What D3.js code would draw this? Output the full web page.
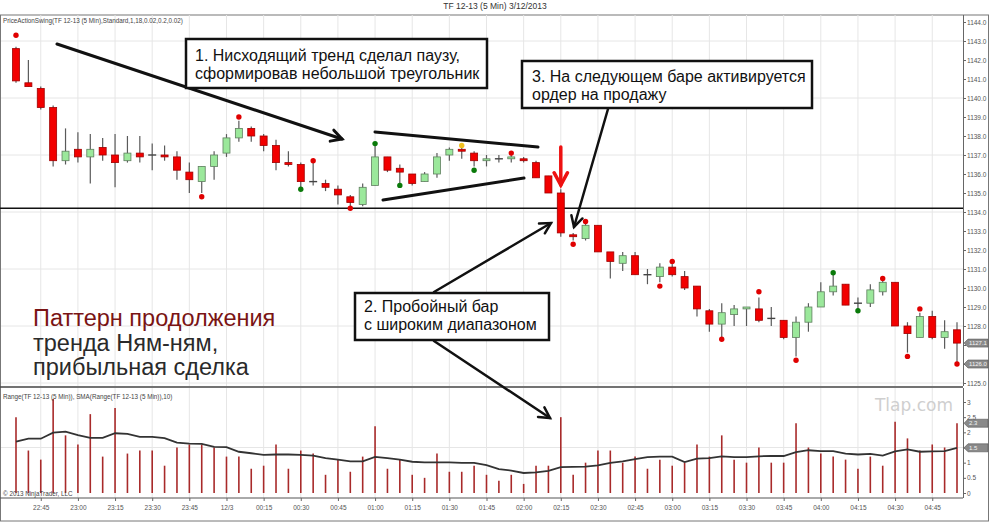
<!DOCTYPE html>
<html>
<head>
<meta charset="utf-8">
<script src="https://cdn.jsdelivr.net/npm/d3@7"></script>
<style>
  body { margin: 0; background: #fff; }
  svg { display: block; font-family: "Liberation Sans", Arial, sans-serif; }
</style>
</head>
<body>
<div id="chart"></div>
<script>
// 5-min bars, 22:35 .. 04:55
const opens  = [1142.6,1140.8,1140.5,1139.5,1136.7,1137.3,1136.9,1137.4,1137.0,1136.7,1137.1,1137.0,1137.0,1136.9,1136.1,1135.6,1136.4,1137.1,1137.9,1138.4,
                1138.0,1137.5,1136.6,1136.5,1135.6,1135.5,1135.2,1134.8,1134.4,1135.4,1136.9,1136.3,1136.0,1135.6,1136.0,1137.0,1137.3,1137.1,1136.7,1136.8,
                1136.8,1136.8,1136.6,1135.9,1135.0,1132.8,1132.6,1133.3,1131.9,1131.3,1131.7,1130.7,1130.6,1131.1,1130.6,1130.1,1128.8,1128.1,1128.6,1128.9,
                1128.9,1128.4,1128.3,1127.4,1128.2,1129.0,1129.8,1130.2,1129.2,1129.2,1129.8,1130.3,1128.0,1127.4,1128.5,1127.4,1127.8];
const highs  = [1142.7,1142.0,1140.6,1139.6,1138.4,1138.2,1138.1,1137.9,1138.1,1138.0,1138.0,1137.6,1137.5,1137.2,1136.6,1136.4,1137.2,1138.1,1138.8,1138.5,
                1138.1,1137.8,1137.2,1136.6,1136.6,1135.7,1135.4,1134.9,1135.5,1137.5,1136.9,1136.5,1136.0,1136.1,1137.1,1137.4,1137.4,1137.2,1137.0,1137.0,
                1137.0,1136.9,1136.7,1135.9,1135.2,1132.9,1133.4,1133.3,1131.9,1131.9,1131.9,1131.0,1131.3,1131.3,1130.9,1130.1,1128.9,1129.2,1129.1,1129.0,
                1129.5,1129.0,1128.3,1128.5,1129.2,1130.3,1130.7,1130.2,1129.5,1130.2,1130.4,1130.3,1128.2,1128.7,1128.8,1128.3,1128.2];
const lows   = [1140.8,1140.6,1139.4,1136.4,1136.5,1136.6,1135.5,1136.7,1135.3,1136.6,1136.6,1136.2,1136.7,1135.7,1135.0,1135.0,1135.7,1136.9,1137.7,1137.7,
                1137.2,1136.2,1136.4,1135.3,1135.4,1135.1,1134.4,1134.3,1134.3,1135.4,1136.1,1135.5,1135.4,1135.6,1135.8,1136.7,1136.8,1136.4,1136.4,1136.6,
                1136.6,1136.6,1135.8,1135.0,1132.7,1132.5,1132.5,1131.9,1130.5,1130.9,1130.7,1130.2,1130.3,1130.6,1129.9,1128.5,1127.7,1127.4,1128.0,1128.0,
                1128.2,1128.0,1127.3,1126.4,1127.7,1129.0,1129.6,1129.1,1128.9,1129.0,1129.6,1128.0,1126.6,1127.4,1127.3,1126.8,1126.1];
const closes = [1140.9,1140.6,1139.5,1136.7,1137.2,1136.9,1137.3,1137.0,1136.6,1137.1,1136.9,1137.0,1136.9,1136.2,1135.7,1136.4,1137.0,1137.9,1138.4,1138.0,
                1137.5,1136.6,1136.5,1135.6,1135.6,1135.3,1134.9,1134.5,1135.3,1136.9,1136.2,1136.1,1135.5,1136.0,1136.9,1137.3,1137.2,1136.7,1136.8,1136.8,
                1136.9,1136.7,1135.8,1135.0,1132.9,1132.7,1133.3,1131.9,1131.4,1131.7,1130.7,1130.7,1131.1,1130.7,1130.0,1128.9,1128.1,1128.7,1128.9,1129.0,
                1128.3,1128.4,1127.4,1128.2,1129.0,1129.8,1130.1,1129.1,1129.2,1129.9,1130.3,1128.0,1127.6,1128.5,1127.4,1127.7,1127.1];

// lower panel: Range and SMA(Range,10)
const ranges   = [2.5,1.4,1.1,3.1,1.9,1.6,2.6,1.2,2.8,1.3,1.4,1.4,0.9,1.5,1.6,1.6,1.5,1.2,1.2,0.8,
                  0.9,1.6,0.8,1.4,1.3,0.6,1.1,0.7,1.2,2.2,0.8,1.1,0.6,0.5,1.3,0.7,0.7,0.9,0.6,0.4,
                  0.6,0.3,0.9,0.9,2.5,0.6,1.0,1.4,1.4,1.0,1.2,0.8,1.1,0.9,1.0,1.6,1.2,1.9,1.1,1.0,
                  1.5,1.0,1.0,2.3,1.5,1.3,1.2,1.1,0.8,1.2,0.9,2.35,1.8,1.4,1.6,1.5,2.3];
const smaRange = [1.69,1.79,1.79,1.99,2.02,1.91,1.82,1.82,1.97,1.95,1.85,1.85,1.81,1.66,1.63,1.62,1.52,1.51,1.36,1.31,
                  1.26,1.27,1.27,1.26,1.23,1.15,1.10,1.04,1.04,1.19,1.15,1.10,1.03,1.01,1.01,1.01,0.99,0.99,0.92,0.79,
                  0.74,0.66,0.68,0.73,0.85,0.86,0.87,0.91,0.99,1.04,1.12,1.18,1.20,1.20,1.02,1.13,1.15,1.21,1.18,1.18,
                  1.21,1.22,1.22,1.35,1.41,1.38,1.38,1.30,1.27,1.29,1.23,1.37,1.44,1.36,1.37,1.38,1.49];

// PriceActionSwing dots
const dotBars   = [0,15,18,23,24,27,29,31,36,37,40,45,46,52,53,57,60,63,66,68,70,72,73,76];
const dotPrices = [1143.3,1134.8,1139.0,1135.2,1136.7,1134.2,1137.6,1135.4,1137.5,1136.2,1137.1,1132.3,1133.5,1130.1,1131.4,1127.3,1129.8,1126.2,1130.8,1128.8,1130.5,1126.4,1128.9,1126.0];
const dotColors = ["r","r","r","g","r","r","g","g","y","g","r","r","r","r","r","r","r","r","g","g","r","r","r","r"];

const timeTickBars = [2,5,8,11,14,17,20,23,26,29,32,35,38,41,44,47,50,53,56,59,62,65,68,71,74];
const timeLabels = ["22:45","23:00","23:15","23:30","23:45","12/3","00:15","00:30","00:45","01:00","01:15","01:30","01:45",
                    "02:00","02:15","02:30","02:45","03:00","03:15","03:30","03:45","04:00","04:15","04:30","04:45"];
const priceTicks = [1144,1143,1142,1141,1140,1139,1138,1137,1136,1135,1134,1133,1132,1131,1130,1129,1128,1127,1126,1125];
const priceGrid  = [1143,1140,1137,1134,1131,1128,1125];
const rangeTicks = [0,0.5,1,1.5,2,2.5,3];
const supportLevel = 1134.2;

const W = 990, H = 523;
const plotL = 1, plotR = 963;
const upTop = 15, upBot = 386, loTop = 388, loBot = 498;

const svg = d3.select("#chart").append("svg").attr("width", W).attr("height", H);

const x = d3.scalePoint().domain(d3.range(opens.length)).range([16, 957]);
const yP = d3.scaleLinear().domain([1125, 1144]).range([383, 22]);
const yR = d3.scaleLinear().domain([0, 3]).range([493, 402]);

const last = a => a[a.length - 1];
const upMarks = [last(closes), last(dotPrices)];
const loMarks = [last(ranges), last(smaRange)];

// frame
svg.append("rect").attr("x", 0.5).attr("y", upTop).attr("width", 988).attr("height", 521 - upTop)
  .attr("fill", "none").attr("stroke", "#777");

// grid
const grid = svg.append("g").attr("stroke", "#e6e6e6").attr("stroke-width", 1);
grid.selectAll(".vu").data(timeTickBars).enter().append("line")
  .attr("x1", d => x(d)).attr("x2", d => x(d)).attr("y1", upTop).attr("y2", upBot);
grid.selectAll(".vl").data(timeTickBars).enter().append("line")
  .attr("x1", d => x(d)).attr("x2", d => x(d)).attr("y1", loTop).attr("y2", loBot);
grid.selectAll(".hu").data(priceGrid).enter().append("line")
  .attr("x1", plotL).attr("x2", plotR).attr("y1", d => yP(d)).attr("y2", d => yP(d));
grid.append("line").attr("x1", plotL).attr("x2", plotR).attr("y1", yR(1.5)).attr("y2", yR(1.5));

// panel separator / axis line
svg.append("line").attr("x1", 0).attr("x2", plotR).attr("y1", 387).attr("y2", 387).attr("stroke", "#444").attr("stroke-width", 1.5);
svg.append("line").attr("x1", 0).attr("x2", plotR).attr("y1", loBot).attr("y2", loBot).attr("stroke", "#555");

// right axes (labels hidden where a price marker sits on top of them)
const axP = svg.append("g").attr("transform", `translate(${plotR},0)`)
  .call(d3.axisRight(yP).tickValues(priceTicks).tickFormat(d3.format(".1f")).tickSize(3).tickSizeOuter(0));
axP.select(".domain").attr("d", `M0.5,${upTop}V${upBot}`);
axP.selectAll(".tick text").filter(d => upMarks.some(m => Math.abs(yP(m) - yP(d)) < 7)).remove();
const axR = svg.append("g").attr("transform", `translate(${plotR},0)`)
  .call(d3.axisRight(yR).tickValues(rangeTicks).tickFormat(d => String(d)).tickSize(3).tickSizeOuter(0));
axR.select(".domain").attr("d", `M0.5,${loTop}V${loBot}`);
axR.selectAll(".tick text").filter(d => loMarks.some(m => Math.abs(yR(m) - yR(d)) < 6)).remove();
[axP, axR].forEach(a => {
  a.selectAll(".domain, .tick line").attr("stroke", "#666");
  a.selectAll("text").attr("font-size", 6.5).attr("fill", "#555").attr("x", 4);
});

// bottom axis
const axX = svg.append("g").attr("transform", `translate(0,${loBot})`)
  .call(d3.axisBottom(x).tickValues(timeTickBars).tickFormat((d, i) => timeLabels[i]).tickSize(3).tickSizeOuter(0));
axX.select(".domain").remove();
axX.selectAll(".tick line").attr("stroke", "#666");
axX.selectAll("text").attr("font-size", 6.5).attr("fill", "#555").attr("dy", "0.9em");

// support level
svg.append("line").attr("x1", 0).attr("x2", plotR).attr("y1", yP(supportLevel)).attr("y2", yP(supportLevel))
  .attr("stroke", "#111").attr("stroke-width", 1.6);

// candles
const candles = svg.append("g").selectAll("g").data(d3.range(opens.length)).enter().append("g");
candles.append("line")
  .attr("x1", i => x(i)).attr("x2", i => x(i))
  .attr("y1", i => yP(highs[i])).attr("y2", i => yP(lows[i]))
  .attr("stroke", "#5a5a5a").attr("stroke-width", 1.2);
candles.filter(i => Math.abs(opens[i] - closes[i]) < 0.05).append("line")
  .attr("x1", i => x(i) - 4).attr("x2", i => x(i) + 4)
  .attr("y1", i => yP(closes[i])).attr("y2", i => yP(closes[i]))
  .attr("stroke", "#444").attr("stroke-width", 1.4);
candles.filter(i => Math.abs(opens[i] - closes[i]) >= 0.05).append("rect")
  .attr("x", i => x(i) - 3.5).attr("width", 7)
  .attr("y", i => yP(Math.max(opens[i], closes[i])))
  .attr("height", i => Math.max(1.5, Math.abs(yP(opens[i]) - yP(closes[i]))))
  .attr("fill", i => closes[i] > opens[i] ? "#9be89b" : "#f20000")
  .attr("stroke", i => closes[i] > opens[i] ? "#5f7f5f" : "#a00000")
  .attr("stroke-width", 0.8);

// swing dots
const dotFill = { r: "#e00000", g: "#0a7a0a", y: "#f0c020" };
svg.append("g").selectAll("circle").data(dotBars).enter().append("circle")
  .attr("cx", d => x(d)).attr("cy", (d, i) => yP(dotPrices[i])).attr("r", 2.7)
  .attr("fill", (d, i) => dotFill[dotColors[i]]);

// range bars + SMA
svg.append("g").selectAll("line").data(ranges).enter().append("line")
  .attr("x1", (d, i) => x(i)).attr("x2", (d, i) => x(i))
  .attr("y1", yR(0)).attr("y2", d => yR(d))
  .attr("stroke", "#a82a2a").attr("stroke-width", 1.6);
svg.append("path").datum(smaRange)
  .attr("d", d3.line().x((d, i) => x(i)).y(d => yR(d)))
  .attr("fill", "none").attr("stroke", "#333").attr("stroke-width", 1.8);

// price markers on right axes
function marker(y, label) {
  const g = svg.append("g").attr("transform", `translate(${plotR + 1},${y})`);
  g.append("path").attr("d", "M0,0L4,-4H24V4H4Z").attr("fill", "#8a8a8a").attr("stroke", "#555").attr("stroke-width", 0.6);
  g.append("text").attr("x", 5).attr("y", 2.2).attr("font-size", 6).attr("fill", "#f4f4f4").text(label);
}
upMarks.forEach(v => marker(yP(v), d3.format(".1f")(v)));
loMarks.forEach(v => marker(yR(v), d3.format(".1f")(v)));

// small texts
svg.append("text").attr("x", 495).attr("y", 9).attr("text-anchor", "middle").attr("font-size", 8.5).attr("fill", "#333")
  .text("TF 12-13 (5 Min)  3/12/2013");
svg.append("text").attr("x", 3).attr("y", 23).attr("font-size", 6.3).attr("fill", "#444")
  .text("PriceActionSwing(TF 12-13 (5 Min),Standard,1,18,0.02,0.2,0.02)");
svg.append("text").attr("x", 3).attr("y", 399).attr("font-size", 6.3).attr("fill", "#444")
  .text("Range(TF 12-13 (5 Min)), SMA(Range(TF 12-13 (5 Min)),10)");
svg.append("text").attr("x", 3).attr("y", 496).attr("font-size", 6.3).attr("fill", "#444")
  .text("© 2013 NinjaTrader, LLC");
svg.append("text").attr("x", 953).attr("y", 411).attr("text-anchor", "end").attr("font-size", 17)
  .attr("font-family", "DejaVu Sans").attr("fill", "#cfcfcf").text("Tlap.com");

// annotations
function arrow(x1, y1, x2, y2, color, w, head) {
  const a = Math.atan2(y2 - y1, x2 - x1);
  const g = svg.append("g").attr("stroke", color).attr("stroke-width", w).attr("fill", "none").attr("stroke-linecap", "round");
  g.append("line").attr("x1", x1).attr("y1", y1).attr("x2", x2).attr("y2", y2);
  if (head) {
    g.append("path").attr("d",
      `M${x2 - head * Math.cos(a - 0.5)},${y2 - head * Math.sin(a - 0.5)}L${x2},${y2}L${x2 - head * Math.cos(a + 0.5)},${y2 - head * Math.sin(a + 0.5)}`)
      .attr("stroke-linejoin", "miter");
  }
}
arrow(57, 44, 342, 139, "#111", 3, 12);
arrow(375, 132, 538, 147, "#111", 3, 0);
arrow(383, 200, 524, 178, "#111", 3, 0);
arrow(x(44), 147, x(44), 185, "#ee1111", 3.5, 14);
arrow(608, 109, 574, 227, "#111", 2.5, 12);
arrow(434, 292, 551, 223, "#111", 2.5, 12);
arrow(434, 341, 550, 418, "#111", 2.5, 12);

function box(x0, y0, x1, y1, lines, tx, ty) {
  svg.append("rect").attr("x", x0).attr("y", y0).attr("width", x1 - x0).attr("height", y1 - y0)
    .attr("fill", "#fff").attr("stroke", "#111").attr("stroke-width", 2.5);
  lines.forEach((t, i) => svg.append("text").attr("x", tx).attr("y", ty[i]).attr("font-size", 16).attr("fill", "#111").text(t));
}
box(186, 39, 487, 88, ["1. Нисходящий тренд сделал паузу,", "сформировав небольшой треугольник"], 195, [61, 79]);
box(522, 61, 812, 108, ["3. На следующем баре активируется", "ордер на продажу"], 532, [82, 100]);
box(355, 293, 549, 340, ["2. Пробойный бар", "с широким диапазоном"], 364, [312, 330]);

const big = [["Паттерн продолжения", "#7a1414"], ["тренда Ням-ням,", "#2a2a2a"], ["прибыльная сделка", "#2a2a2a"]];
big.forEach((b, i) => svg.append("text").attr("x", 33).attr("y", 326 + i * 24.5)
  .attr("font-size", 23.5).attr("fill", b[1]).text(b[0]));
</script>
</body>
</html>
